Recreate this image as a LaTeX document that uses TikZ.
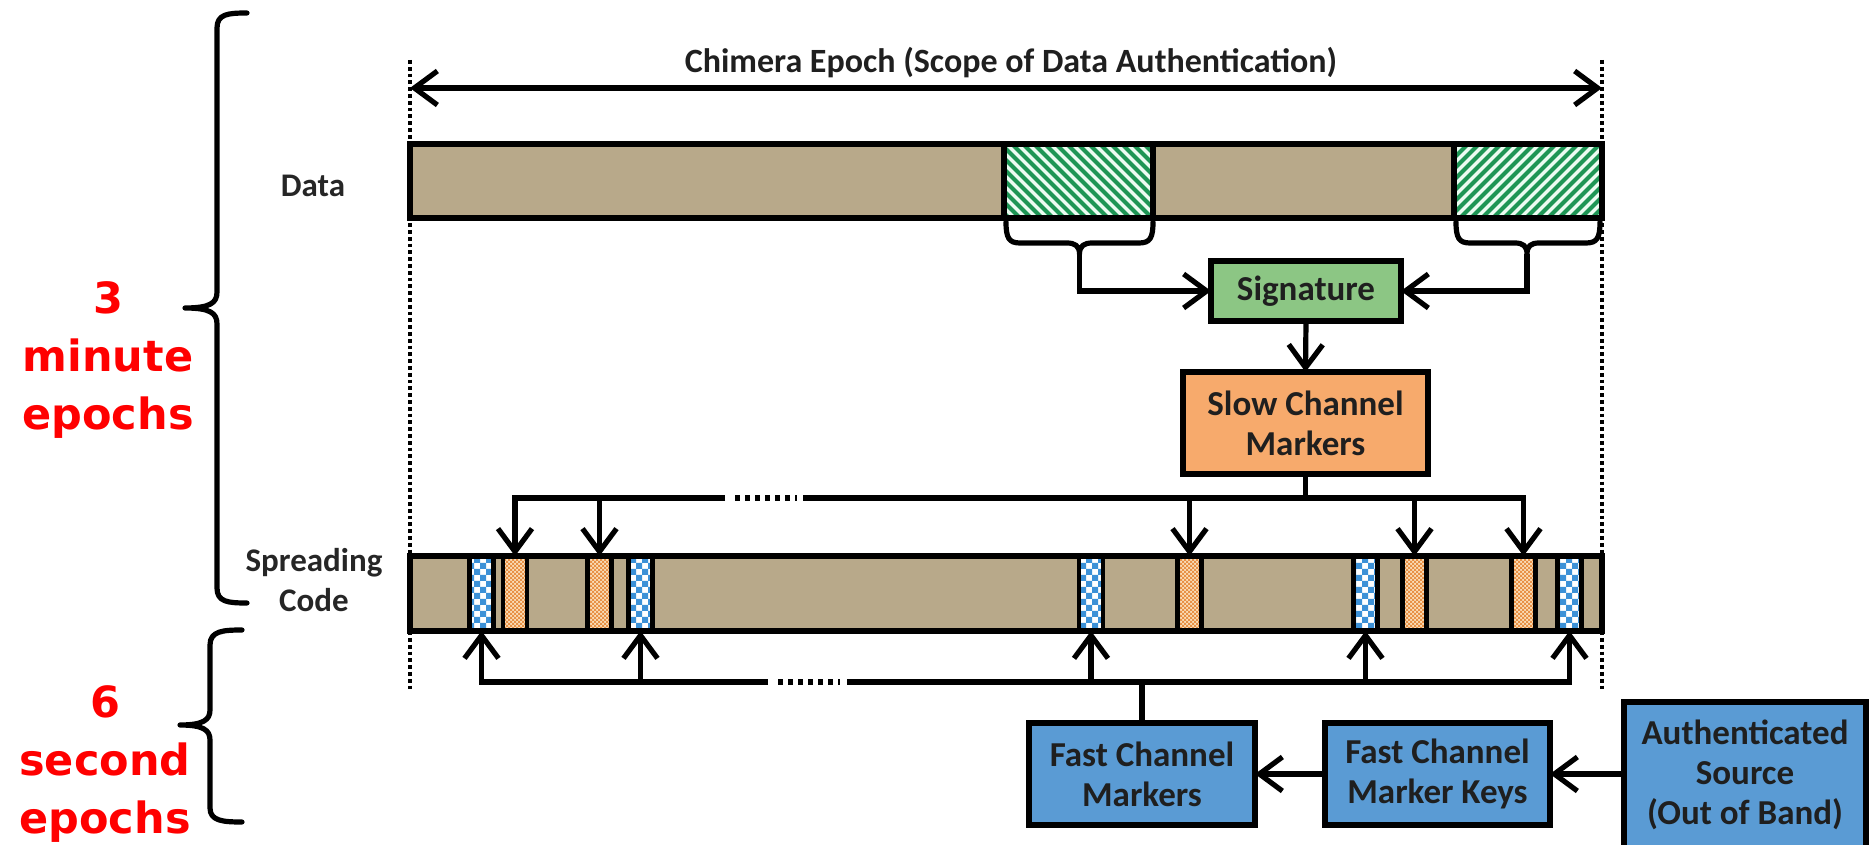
\documentclass[tikz,border=0pt]{standalone}
\usepackage{fontspec}
\setmainfont{Carlito}
\newfontfamily\redfont{DejaVu Sans}
\usetikzlibrary{arrows.meta,patterns}
\definecolor{datafill}{RGB}{184,169,138}
\definecolor{hatchgreen}{RGB}{30,150,85}
\definecolor{hatchbg}{RGB}{236,252,242}
\definecolor{sigfill}{RGB}{140,198,132}
\definecolor{slowfill}{RGB}{247,170,108}
\definecolor{bluefill}{RGB}{90,155,212}
\definecolor{checkblue}{RGB}{60,145,215}
\definecolor{orangebg}{RGB}{250,222,185}
\definecolor{orangedot}{RGB}{232,145,70}
\definecolor{redtext}{RGB}{255,0,0}
\pgfdeclarepatternformonly{bluecheck}{\pgfqpoint{-1pt}{-1pt}}{\pgfqpoint{7pt}{7pt}}{\pgfqpoint{6pt}{6pt}}{%
 \pgfpathrectangle{\pgfpointorigin}{\pgfqpoint{3.05pt}{3.05pt}}%
 \pgfpathrectangle{\pgfqpoint{3pt}{3pt}}{\pgfqpoint{3.05pt}{3.05pt}}%
 \pgfusepath{fill}}
\pgfdeclarepatternformonly{orangecheck}{\pgfqpoint{-1pt}{-1pt}}{\pgfqpoint{3pt}{3pt}}{\pgfqpoint{2pt}{2pt}}{%
 \pgfpathrectangle{\pgfpointorigin}{\pgfqpoint{1.05pt}{1.05pt}}%
 \pgfpathrectangle{\pgfqpoint{1pt}{1pt}}{\pgfqpoint{1.05pt}{1.05pt}}%
 \pgfusepath{fill}}
\begin{document}
\begin{tikzpicture}[x=0.5pt,y=-0.5pt,
  every node/.style={inner sep=0pt, outer sep=0pt},
  lw/.style={line width=2.6pt},
  >={Straight Barb[length=11.5pt,width=17pt]},
  cbox/.style={draw, line width=2.6pt, align=center, font=\bfseries\fontsize{17.5}{20}\selectfont, text=black!88},
  lbltxt/.style={align=center, font=\bfseries\fontsize{16.5}{20}\selectfont, text=black!85},
  redlbl/.style={align=center, text=redtext, font=\redfont\bfseries\fontsize{21.5}{29}\selectfont},
  barbox/.style={draw, line width=2.6pt, fill=datafill},
  bmark/.style={draw, line width=2.4pt, minimum width=12pt, minimum height=37.5pt, preaction={fill=white}, pattern=bluecheck, pattern color=checkblue},
  omark/.style={draw, line width=2.4pt, minimum width=12pt, minimum height=37.5pt, preaction={fill=orangebg}, pattern=orangecheck, pattern color=orangedot},
  dotv/.style={line width=2.4pt, dash pattern=on 1.9pt off 1.5pt},
  gapdots/.style={line width=2.6pt, dash pattern=on 2.6pt off 2.4pt},
  bracep/.style={line width=2.6pt, line join=round, line cap=round},
]
\useasboundingbox (0,0) rectangle (1876,845);

% left braces and red labels
\draw[bracep] (247,13) .. controls (228,13) and (217,14) .. (217,28) -- (217,292)
  .. controls (217,303) and (210,308) .. (185,308)
  .. controls (210,308) and (217,313) .. (217,324) -- (217,588)
  .. controls (217,602) and (228,603) .. (247,603);
\draw[bracep] (242,630) .. controls (223,630) and (210,631) .. (210,645) -- (210,710)
  .. controls (210,720) and (203,725) .. (180,725)
  .. controls (203,725) and (210,730) .. (210,740) -- (210,808)
  .. controls (210,821) and (223,822) .. (242,822);
\node[redlbl] (r3) at (108,360) {3\\minute\\epochs};
\node[redlbl] (r6) at (105,764) {6\\second\\epochs};

% row labels
\node[lbltxt] (ldata) at (313,186) {Data};
\node[lbltxt] (lspread) at (314,580) {Spreading\\Code};

% dotted epoch limits
\coordinate (vL1) at (410,60); \coordinate (vL2) at (410,692);
\coordinate (vR1) at (1602,60); \coordinate (vR2) at (1602,692);
\draw[dotv] (vL1) -- (vL2);
\draw[dotv] (vR1) -- (vR2);

% epoch arrow
\coordinate (eL) at (410,88); \coordinate (eR) at (1602,88);
\draw[lw,<->] (eL) -- (eR);
\node[font=\bfseries\fontsize{17}{20}\selectfont, text=black!88] (ttl) at (1011,63) {Chimera Epoch (Scope of Data Authentication)};

% data bar
\node[barbox, minimum width=596pt, minimum height=37pt] (data) at (1006,181) {};
\node[minimum width=74.5pt, minimum height=37pt] (h1) at (1078.5,181) {};
\node[minimum width=74pt, minimum height=37pt] (h2) at (1528,181) {};
\begin{scope}
  \clip (h1.north west) rectangle (h1.south east);
  \fill[hatchbg] (h1.north west) rectangle (h1.south east);
  \foreach \x in {920,931,...,1165} \draw[hatchgreen, line width=2.1pt] (\x,140) -- (\x+80,220);
\end{scope}
\begin{scope}
  \clip (h2.north west) rectangle (h2.south east);
  \fill[hatchbg] (h2.north west) rectangle (h2.south east);
  \foreach \x in {1370,1381,...,1610} \draw[hatchgreen, line width=2.1pt] (\x,220) -- (\x+80,140);
\end{scope}
\draw[lw] (h1.north west) rectangle (h1.south east);
\draw[lw] (h2.north west) rectangle (h2.south east);
\draw[lw] (data.north west) rectangle (data.south east);

% braces under data
\draw[bracep] (1006,222) .. controls (1006,238) and (1009,243) .. (1020,243) -- (1067,243)
  .. controls (1075,243) and (1079.5,246) .. (1079.5,254)
  .. controls (1079.5,246) and (1084,243) .. (1092,243) -- (1139,243)
  .. controls (1150,243) and (1153,238) .. (1153,222);
\draw[bracep] (1456,222) .. controls (1456,238) and (1459,243) .. (1470,243) -- (1515,243)
  .. controls (1523,243) and (1527,246) .. (1527,254)
  .. controls (1527,246) and (1531,243) .. (1539,243) -- (1586,243)
  .. controls (1597,243) and (1600,238) .. (1600,222);
\coordinate (b1tip) at (1079.5,254);
\coordinate (b2tip) at (1527,254);

% boxes
\node[cbox, fill=sigfill, minimum width=95pt, minimum height=30pt] (sig) at (1306,291) {Signature};
\node[cbox, fill=slowfill, minimum width=122.5pt, minimum height=51pt] (slow) at (1305.5,423) {Slow Channel\\Markers};
\node[cbox, fill=bluefill, minimum width=113pt, minimum height=51pt] (fcm) at (1142,774) {Fast Channel\\Markers};
\node[cbox, fill=bluefill, minimum width=112.5pt, minimum height=51pt] (keys) at (1437.5,774) {Fast Channel\\Marker Keys};
\node[cbox, fill=bluefill, minimum width=121pt, minimum height=73pt] (auth) at (1745,775) {Authenticated\\Source\\(Out of Band)};

\draw[lw,->] (b1tip) |- (sig.west);
\draw[lw,->] (b2tip) |- (sig.east);
\draw[lw,->] (sig.south) -- (slow.north);

% spreading code bar
\node[barbox, minimum width=596pt, minimum height=37.5pt] (spread) at (1006,593.5) {};
\node[bmark] (c1) at (481.5,593.5) {};
\node[bmark] (c2) at (640.5,593.5) {};
\node[bmark] (c3) at (1091,593.5) {};
\node[bmark] (c4) at (1365.5,593.5) {};
\node[bmark] (c5) at (1569.5,593.5) {};
\node[omark] (o1) at (515,593.5) {};
\node[omark] (o2) at (599.5,593.5) {};
\node[omark] (o3) at (1189.5,593.5) {};
\node[omark] (o4) at (1414.5,593.5) {};
\node[omark] (o5) at (1523.5,593.5) {};
\draw[lw] (spread.north west) rectangle (spread.south east);

% slow channel distribution
\coordinate (tbus) at (1305.5,498);
\coordinate (tg1) at (725,498); \coordinate (tg2) at (735,498);
\coordinate (tg3) at (797,498); \coordinate (tg4) at (803,498);
\draw[lw] (slow.south) -- (tbus);
\draw[lw,->] (tg1) -| (o1.north);
\draw[gapdots] (tg2) -- (tg3);
\draw[lw,->] (tg4) -| (o5.north);
\draw[lw,->] (o2.north |- tbus) -- (o2.north);
\draw[lw,->] (o3.north |- tbus) -- (o3.north);
\draw[lw,->] (o4.north |- tbus) -- (o4.north);

% fast channel distribution
\coordinate (bbus) at (1142,682);
\coordinate (bg1) at (768,682); \coordinate (bg2) at (778,682);
\coordinate (bg3) at (840,682); \coordinate (bg4) at (847,682);
\draw[lw] (fcm.north) -- (bbus);
\draw[lw,->] (bg1) -| (c1.south);
\draw[gapdots] (bg2) -- (bg3);
\draw[lw,->] (bg4) -| (c5.south);
\draw[lw,->] (c2.south |- bbus) -- (c2.south);
\draw[lw,->] (c3.south |- bbus) -- (c3.south);
\draw[lw,->] (c4.south |- bbus) -- (c4.south);

\draw[lw,->] (keys.west) -- (fcm.east);
\draw[lw,->] (auth.west |- keys.west) -- (keys.east);
\end{tikzpicture}
\end{document}
